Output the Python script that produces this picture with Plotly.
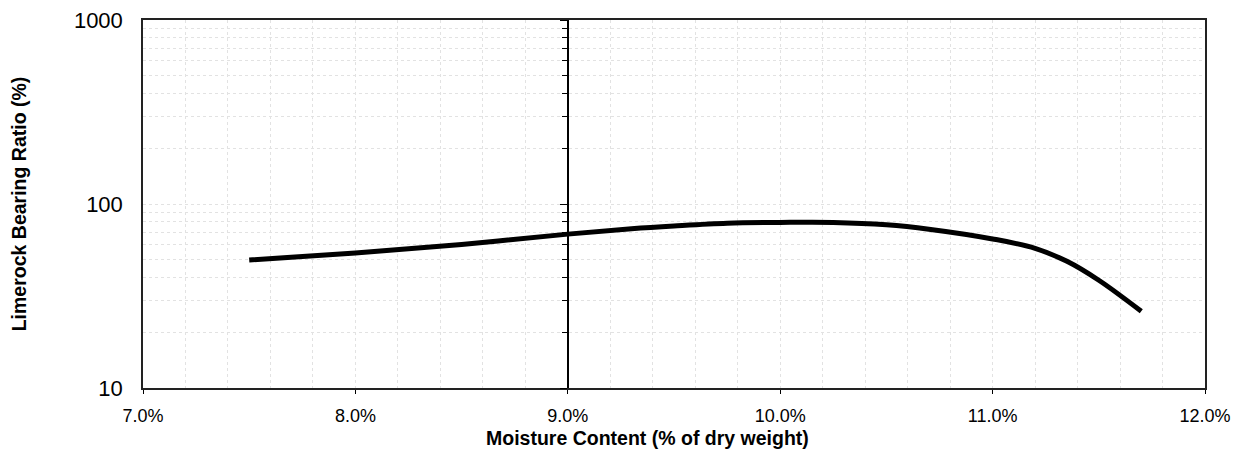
import plotly.graph_objects as go

# Moisture content (fraction of dry weight) and limerock bearing ratio (%)
moisture = [0.075, 0.080, 0.085, 0.090, 0.093, 0.095, 0.0975, 0.100,
            0.1025, 0.105, 0.107, 0.110, 0.112, 0.1135, 0.115, 0.117]
lbr = [49.6, 54.2, 60.3, 68.6, 73.4, 76.0, 78.7, 79.4,
       79.4, 77.1, 73.0, 64.6, 57.4, 48.8, 38.5, 26.1]

x_range = [0.07, 0.12]
x_ticks = [0.07, 0.08, 0.09, 0.10, 0.11, 0.12]
y_ticks = [10, 100, 1000]
inner_axis_at = 0.09

FONT = "Liberation Sans, Arial, sans-serif"

fig = go.Figure()
fig.add_trace(go.Scatter(
    x=moisture, y=lbr, mode="lines",
    line=dict(color="black", width=5, shape="spline", smoothing=1.0),
    hoverinfo="skip", showlegend=False,
))
# empty trace so that the inner (9.0%) axis is drawn
fig.add_trace(go.Scatter(x=[], y=[], yaxis="y2", mode="lines",
                         hoverinfo="skip", showlegend=False))

inner_pos = (inner_axis_at - x_range[0]) / (x_range[1] - x_range[0])

fig.update_layout(
    width=1232, height=444,
    margin=dict(l=135, r=35, t=12, b=64, autoexpand=False),
    paper_bgcolor="white", plot_bgcolor="white",
    showlegend=False,
    font=dict(family=FONT, color="black"),
    xaxis=dict(
        range=x_range, tickvals=x_ticks, tickformat=".1%",
        tickfont=dict(size=18), ticks="outside", ticklen=4, tickcolor="black",
        ticklabeloverflow="allow", ticklabelstandoff=7, automargin=False,
        showline=True, linecolor="#222", linewidth=1.5, mirror=True,
        showgrid=False, zeroline=False,
        minor=dict(dtick=0.002, showgrid=True, gridcolor="#e2e2e2",
                   griddash="dot", gridwidth=1, ticks=""),
    ),
    yaxis=dict(
        type="log", range=[1, 3], tickvals=y_ticks, ticktext=["10", "100", "1000"],
        tickfont=dict(size=22), ticks="", ticklabelstandoff=14,
        ticklabeloverflow="allow", automargin=False,
        showline=True, linecolor="#222", linewidth=1.5, mirror=True,
        showgrid=False, zeroline=False,
        minor=dict(dtick="D1", showgrid=True, gridcolor="#e2e2e2",
                   griddash="dot", gridwidth=1, ticks=""),
        title=dict(text="<b>Limerock Bearing Ratio (%)</b>",
                   font=dict(size=19.5), standoff=50),
    ),
    yaxis2=dict(
        type="log", range=[1, 3], overlaying="y", anchor="free",
        position=inner_pos, side="left", automargin=False,
        showline=True, linecolor="black", linewidth=1.5,
        showticklabels=False, showgrid=False, zeroline=False,
        ticks="outside", ticklen=7, tickcolor="black", tickvals=y_ticks,
        minor=dict(dtick="D1", ticks="outside", ticklen=5, tickcolor="black",
                   showgrid=False),
    ),
    annotations=[dict(
        text="<b>Moisture Content (% of dry weight)</b>",
        xref="paper", yref="paper", x=0.4755, y=-0.136,
        xanchor="center", yanchor="middle", showarrow=False,
        font=dict(size=19.5, family=FONT, color="black"),
    )],
)

fig.write_html("out.html")
